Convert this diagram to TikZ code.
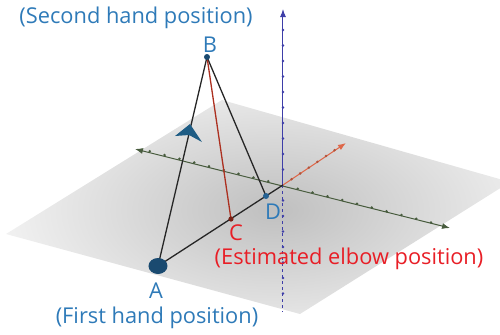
\documentclass[tikz,border=0pt]{standalone}
\usepackage{fontspec}
\setmainfont{Open Sans}
\usetikzlibrary{calc,arrows.meta}

\definecolor{ptblue}{RGB}{46,122,184}
\definecolor{ptred}{RGB}{232,30,38}
\definecolor{dotblue}{RGB}{26,74,112}
\definecolor{chevblue}{RGB}{30,92,132}
\definecolor{axred}{RGB}{222,104,74}
\definecolor{axgreen}{RGB}{72,92,62}
\definecolor{axblue}{RGB}{62,62,168}
\definecolor{segred}{RGB}{172,48,32}

\tikzset{
  lbl/.style={inner sep=0pt, font=\fontsize{10.9}{12}\selectfont},
  seg/.style={line width=0.65pt, black!85},
  tick/.style={radius=1.4},
}

\begin{document}
\begin{tikzpicture}[x=0.5pt, y=-0.5pt, line join=round]
  \useasboundingbox (0,0) rectangle (500,334);
  % the xy-plane
  \coordinate (P1) at (6,234);
  \coordinate (P2) at (222,100);
  \coordinate (P3) at (510,182);
  \coordinate (P4) at (300,314);
  \begin{scope}
    \clip (P1)--(P2)--(P3)--(P4)--cycle;
    \shade[inner color=gray!50, outer color=gray!4] (275,210) ellipse [x radius=320, y radius=165];
  \end{scope}
  % axes
  \coordinate (O) at (283,185);
  \coordinate (Ym) at (135,149);
  \coordinate (Yp) at (450,228);
  \coordinate (Xp) at (346,143);
  \coordinate (Zp) at (283,9);
  \coordinate (Zm) at (283,312);
  \draw[axgreen, line width=0.5pt, {Latex[length=4pt,width=3pt]}-{Latex[length=4pt,width=3pt]}] (Ym) -- (Yp);
  \foreach \k in {-9,...,-1,1,2,...,10}
    \fill[axgreen] ($(O)+\k*(14.8,3.75)$) circle[tick];
  \draw[axred, line width=0.5pt, -{Latex[length=4pt,width=3pt]}] (O) -- (Xp);
  \foreach \k in {1,...,6}
    \fill[axred!80!black] ($(O)+\k*(8.6,-5.8)$) circle[tick];
  \draw[axblue, line width=0.5pt, -{Latex[length=4pt,width=3pt]}] (O) -- (Zp);
  \draw[axblue, line width=0.5pt, dash pattern=on 1.5pt off 1.5pt] (O) -- (Zm);
  \foreach \k in {-7,...,-1,1,2,...,11}
    \fill[axblue] ($(O)+\k*(0,-15.5)$) circle[tick];

  % points
  \coordinate (A) at (158,266);
  \coordinate (B) at (207,57);
  \coordinate (C) at (231,219);
  \coordinate (D) at (266,196);
  \draw[seg] (A) -- (O);
  \draw[seg] (A) -- (B);
  \draw[seg] (B) -- (D);
  \draw[seg, segred] (B) -- (C);
  % direction mark on AB
  \fill[chevblue] (175,136) -- (190,124) -- (202,142) -- (189,135) -- cycle;
  \fill[dotblue] (A) ellipse [x radius=9.5, y radius=8];
  \fill[dotblue] (B) circle[radius=3];
  \fill[segred!70!black] (C) circle[radius=2.6];
  \fill[ptblue!80!black] (D) circle[radius=3];

  % labels
  \node[lbl, ptblue] (tB) at (136,18) {(Second hand position)};
  \node[lbl, ptblue] (nB) at (210,45) {B};
  \node[lbl, ptred] (nC) at (236,233) {C};
  \node[lbl, ptblue] (nD) at (273,212) {D};
  \node[lbl, ptred] (tC) at (349,259) {(Estimated elbow position)};
  \node[lbl, ptblue] (nA) at (156,291) {A};
  \node[lbl, ptblue] (tA) at (157,318) {(First hand position)};
\end{tikzpicture}
\end{document}
